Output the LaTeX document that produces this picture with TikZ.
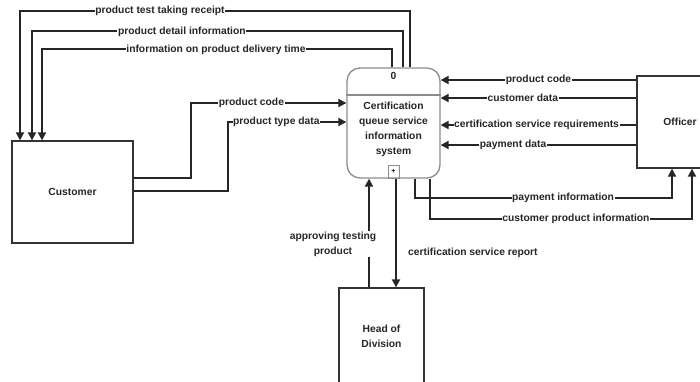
\documentclass[tikz,border=0pt]{standalone}
\usepackage{fontspec}
\setmainfont{Liberation Sans}
\usetikzlibrary{arrows.meta}
\begin{document}
\begin{tikzpicture}[x=1pt,y=-1pt,
  flow/.style={line width=1.8pt,draw=black!85,-{Triangle[length=8pt,width=8pt]}},
  txt/.style={font=\bfseries\fontsize{10.3}{15}\selectfont,text=black!85},
  lbl/.style={txt,fill=white,inner sep=0.6pt},
  ext/.style={draw=black!80,line width=1.3pt,txt,align=center,inner sep=0pt}
]
\useasboundingbox (0,0) rectangle (700,381);
\clip (0,0) rectangle (700,381);
\fill[white] (0,0) rectangle (700,381);

% entities
\node[ext,minimum width=121pt,minimum height=102pt] (cust) at (72.5,192) {Customer};
\node[ext,minimum width=86pt,minimum height=92pt] (off) at (680,122) {Officer};
\node[ext,minimum width=85pt,minimum height=96pt] (hod) at (381.5,336) {Head of\\Division};

% process
\node[draw=black!45,line width=1.3pt,rounded corners=13pt,minimum width=93pt,minimum height=110pt] (proc) at (393.5,123) {};
\coordinate (dv) at (0,95);
\draw[black!45,line width=1.2pt] (proc.west |- dv) -- (proc.east |- dv);
\node[txt] (pnum) at (393.5,76) {0};
\node[txt,align=center] (ptitle) at (393.5,129.5) {Certification\\queue service\\information\\system};
\node[draw=black!45,line width=1pt,minimum width=11pt,minimum height=13pt,inner sep=0pt,anchor=south,font=\bfseries\fontsize{7}{8}\selectfont] (plus) at (proc.south) {+};

% process -> customer (top)
\draw[flow] ([xshift=16.5pt]proc.north) -- ++(0,-56) -- node[lbl,pos=0.641]{product test taking receipt} ++(-390,0) -- ([xshift=-52.5pt]cust.north);
\draw[flow] ([xshift=9.5pt]proc.north) -- ++(0,-36) -- node[lbl,pos=0.596]{product detail information} ++(-371,0) -- ([xshift=-40.5pt]cust.north);
\draw[flow] ([xshift=-1.5pt]proc.north) -- ++(0,-18) -- node[lbl,pos=0.503]{information on product delivery time} ++(-350,0) -- ([xshift=-30.5pt]cust.north);

% customer -> process
\draw[flow] ([yshift=14pt]cust.east) -- ++(57,0) -- ++(0,-75) -- node[lbl,pos=0.39]{product code} ([yshift=20pt]proc.west);
\draw[flow] ([yshift=1pt]cust.east) -- ++(94,0) -- ++(0,-69) -- node[lbl,pos=0.41]{product type data} ([yshift=1pt]proc.west);

% officer -> process
\draw[flow] ([yshift=42pt]off.west) -- node[lbl,pos=0.50]{product code} ([yshift=43pt]proc.east);
\draw[flow] ([yshift=24pt]off.west) -- node[lbl,pos=0.58]{customer data} ([yshift=25pt]proc.east);
\draw[flow] ([yshift=-3pt]off.west) -- node[lbl,pos=0.51]{certification service requirements} ([yshift=-2pt]proc.east);
\draw[flow] ([yshift=-23pt]off.west) -- node[lbl,pos=0.63]{payment data} ([yshift=-22pt]proc.east);

% process -> officer
\draw[flow] ([xshift=21.5pt]proc.south) -- ++(0,19) -- node[lbl,pos=0.576]{payment information} ++(257,0) -- ([xshift=-8pt]off.south);
\draw[flow] ([xshift=36.5pt]proc.south) -- ++(0,40) -- node[lbl,pos=0.557]{customer product information} ++(262,0) -- ([xshift=12pt]off.south);

% head of division
\draw[flow] ([xshift=-12.5pt]hod.north) -- node[lbl,align=center,xshift=-36pt,pos=0.4]{approving testing\\product} ([xshift=-24.5pt]proc.south);
\draw[flow] ([xshift=2.5pt]plus.south) -- node[txt,anchor=west,xshift=8pt,pos=0.68]{certification service report} ([xshift=14.5pt]hod.north);
\end{tikzpicture}
\end{document}
